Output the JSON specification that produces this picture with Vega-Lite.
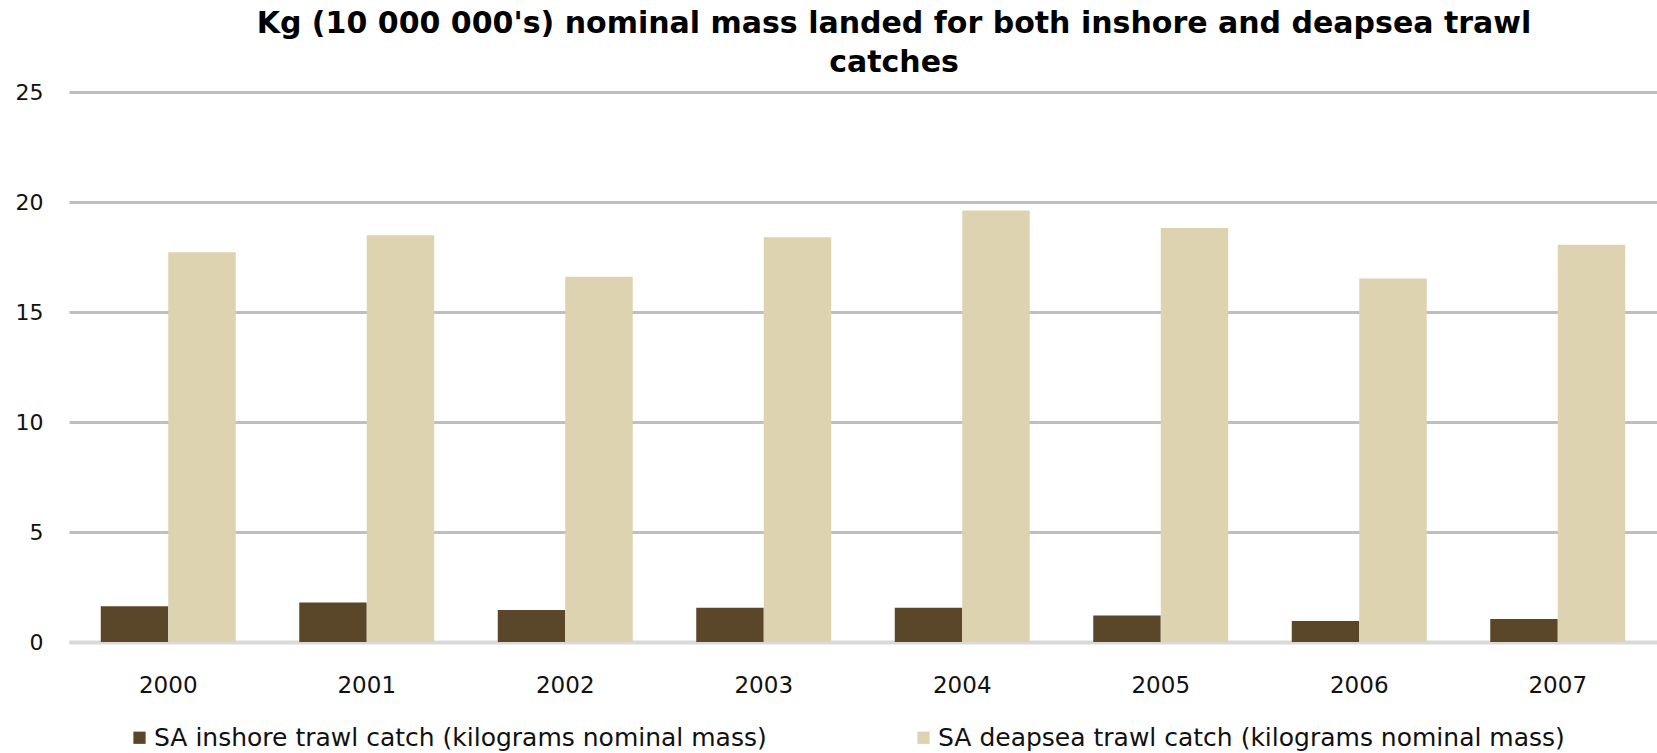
{
  "$schema": "https://vega.github.io/schema/vega-lite/v6.json",
  "autosize": "none",
  "width": 1588,
  "height": 550,
  "padding": {"left": 69, "top": 92, "right": 0, "bottom": 111},
  "background": "white",
  "title": {
    "text": ["Kg (10 000 000's)  nominal mass landed for both inshore and deapsea trawl", "catches"],
    "font": "DejaVu Sans",
    "fontSize": 30,
    "fontWeight": "bold",
    "color": "#000000",
    "anchor": "middle",
    "frame": "group",
    "dx": 31,
    "offset": 3,
    "lineHeight": 39
  },
  "data": {
    "values": [
      {"year": "2000", "series": "SA inshore trawl catch (kilograms nominal mass)", "value": 1.63},
      {"year": "2000", "series": "SA deapsea trawl catch (kilograms nominal mass)", "value": 17.72},
      {"year": "2001", "series": "SA inshore trawl catch (kilograms nominal mass)", "value": 1.80},
      {"year": "2001", "series": "SA deapsea trawl catch (kilograms nominal mass)", "value": 18.49},
      {"year": "2002", "series": "SA inshore trawl catch (kilograms nominal mass)", "value": 1.45},
      {"year": "2002", "series": "SA deapsea trawl catch (kilograms nominal mass)", "value": 16.60},
      {"year": "2003", "series": "SA inshore trawl catch (kilograms nominal mass)", "value": 1.56},
      {"year": "2003", "series": "SA deapsea trawl catch (kilograms nominal mass)", "value": 18.40},
      {"year": "2004", "series": "SA inshore trawl catch (kilograms nominal mass)", "value": 1.56},
      {"year": "2004", "series": "SA deapsea trawl catch (kilograms nominal mass)", "value": 19.61},
      {"year": "2005", "series": "SA inshore trawl catch (kilograms nominal mass)", "value": 1.21},
      {"year": "2005", "series": "SA deapsea trawl catch (kilograms nominal mass)", "value": 18.82},
      {"year": "2006", "series": "SA inshore trawl catch (kilograms nominal mass)", "value": 0.95},
      {"year": "2006", "series": "SA deapsea trawl catch (kilograms nominal mass)", "value": 16.52},
      {"year": "2007", "series": "SA inshore trawl catch (kilograms nominal mass)", "value": 1.04},
      {"year": "2007", "series": "SA deapsea trawl catch (kilograms nominal mass)", "value": 18.06}
    ]
  },
  "mark": {"type": "bar"},
  "encoding": {
    "x": {
      "field": "year",
      "type": "nominal",
      "scale": {"paddingInner": 0.32, "paddingOuter": 0.16},
      "axis": {
        "title": null,
        "labelAngle": 0,
        "labelFont": "DejaVu Sans",
        "labelFontSize": 23,
        "labelColor": "#111111",
        "labelPadding": 32,
        "ticks": false,
        "domain": true,
        "domainColor": "#D9D9D9",
        "domainWidth": 4,
        "grid": false
      }
    },
    "xOffset": {
      "field": "series",
      "type": "nominal",
      "sort": ["SA inshore trawl catch (kilograms nominal mass)", "SA deapsea trawl catch (kilograms nominal mass)"],
      "scale": {"paddingInner": 0, "paddingOuter": 0}
    },
    "y": {
      "field": "value",
      "type": "quantitative",
      "scale": {"domain": [0, 25]},
      "axis": {
        "title": null,
        "values": [0, 5, 10, 15, 20, 25],
        "labelFont": "DejaVu Sans",
        "labelFontSize": 22,
        "labelColor": "#111111",
        "labelPadding": 26,
        "ticks": false,
        "domain": false,
        "grid": true,
        "gridColor": "#BFBFBF",
        "gridWidth": 3
      }
    },
    "color": {
      "field": "series",
      "type": "nominal",
      "sort": ["SA inshore trawl catch (kilograms nominal mass)", "SA deapsea trawl catch (kilograms nominal mass)"],
      "scale": {
        "domain": ["SA inshore trawl catch (kilograms nominal mass)", "SA deapsea trawl catch (kilograms nominal mass)"],
        "range": ["#5A4628", "#DDD3B0"]
      },
      "legend": {
        "title": null,
        "orient": "none",
        "legendX": 58,
        "legendY": 633,
        "direction": "horizontal",
        "symbolType": "square",
        "symbolSize": 150,
        "symbolStrokeWidth": 0,
        "symbolOffset": 0,
        "labelFont": "DejaVu Sans",
        "labelFontSize": 25,
        "labelColor": "#111111",
        "labelLimit": 900,
        "labelOffset": 2,
        "columnPadding": 144
      }
    }
  },
  "config": {
    "view": {"stroke": null}
  }
}
